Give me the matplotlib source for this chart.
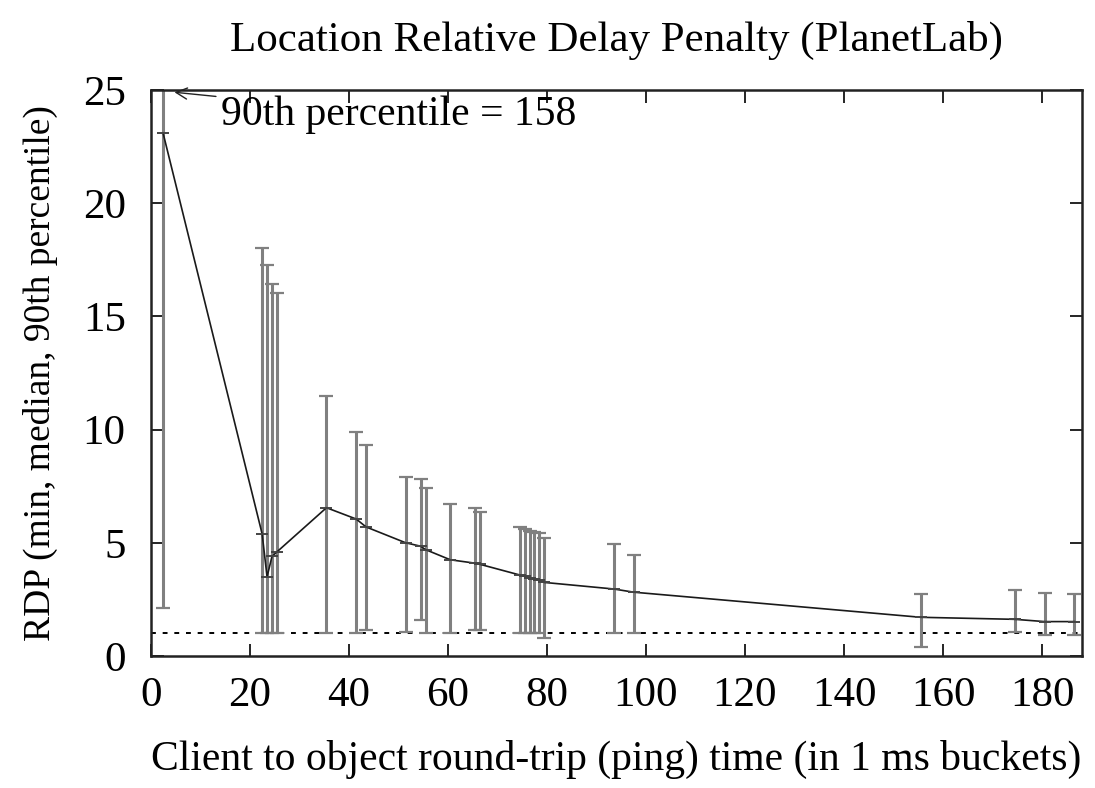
import matplotlib
matplotlib.use("Agg")
import matplotlib.pyplot as plt
import numpy as np

# Data (bucket centre in ms, RDP min / median / 90th percentile)
x_ms = [2.5, 22.5, 23.5, 24.5, 25.5, 35.5, 41.5, 43.5, 51.5, 54.5, 55.5, 60.5,
        65.5, 66.5, 74.5, 75.5, 76.5, 77.5, 78.5, 79.5, 93.5, 97.5, 155.5,
        174.5, 180.5, 186.5]
rdp_median = [23.1, 5.4, 3.5, 4.4, 4.6, 6.55, 6.05, 5.7, 5.0, 4.85, 4.7, 4.25,
              4.1, 4.05, 3.58, 3.52, 3.46, 3.41, 3.35, 3.25, 2.96, 2.82, 1.71,
              1.62, 1.52, 1.52]
rdp_min = [2.1, 1.0, 1.0, 1.0, 1.0, 1.0, 1.0, 1.15, 1.05, 1.6, 1.0, 1.0,
           1.15, 1.15, 1.0, 1.0, 1.0, 1.0, 1.0, 0.8, 1.0, 1.0, 0.4,
           1.05, 0.95, 0.95]
rdp_p90 = [158, 18.0, 17.25, 16.45, 16.05, 11.5, 9.9, 9.3, 7.9, 7.8, 7.4, 6.7,
           6.55, 6.35, 5.68, 5.63, 5.53, 5.46, 5.42, 5.2, 4.93, 4.46, 2.72,
           2.92, 2.8, 2.72]
x_ticks = [0, 20, 40, 60, 80, 100, 120, 140, 160, 180]
y_ticks = [0, 5, 10, 15, 20, 25]

plt.rcParams['font.family'] = ['Liberation Serif', 'DejaVu Serif']

fig = plt.figure(figsize=(10.95, 7.88), dpi=100)
ax = fig.add_axes([0.1376, 0.1675, 0.8503, 0.7183])

xm = np.array(x_ms)
med = np.array(rdp_median)
lo = med - np.array(rdp_min)
hi = np.array(rdp_p90) - med

ax.errorbar(xm, med, yerr=[lo, hi], fmt='none', ecolor='#808080',
            elinewidth=2.2, capsize=5, capthick=1.6, zorder=2)
ax.plot(xm, med, color='#1a1a1a', lw=1.2, zorder=3)
ax.plot(xm, med, linestyle='none', marker='_', markersize=9,
        markeredgewidth=1.4, color='#444444', zorder=3)

ax.axhline(1.0, color='black', lw=1.4, linestyle=(0, (2.5, 3.5)), zorder=1)

ax.annotate('90th percentile = 158', xy=(4.8, 24.9), xytext=(14.3, 23.9),
            fontsize=30, va='center', ha='left',
            arrowprops=dict(arrowstyle='->', color='#222222', lw=1.0,
                            shrinkA=2, shrinkB=0, mutation_scale=20))

ax.set_xlim(0, 188)
ax.set_ylim(0, 25)
ax.set_xticks(x_ticks)
ax.set_yticks(y_ticks)
ax.tick_params(direction='in', length=9, width=1.2, top=True, right=True,
               labelsize=31)
ax.tick_params(axis='x', pad=15)
ax.tick_params(axis='y', pad=18)
for s in ax.spines.values():
    s.set_linewidth(1.8)
    s.set_color('#222222')

ax.set_title('Location Relative Delay Penalty (PlanetLab)', fontsize=31, pad=28)
ax.set_xlabel('Client to object round-trip (ping) time (in 1 ms buckets)',
              fontsize=30, labelpad=18)
ax.set_ylabel('RDP (min, median, 90th percentile)', fontsize=27, labelpad=18)

fig.savefig('out.png', dpi=100)
